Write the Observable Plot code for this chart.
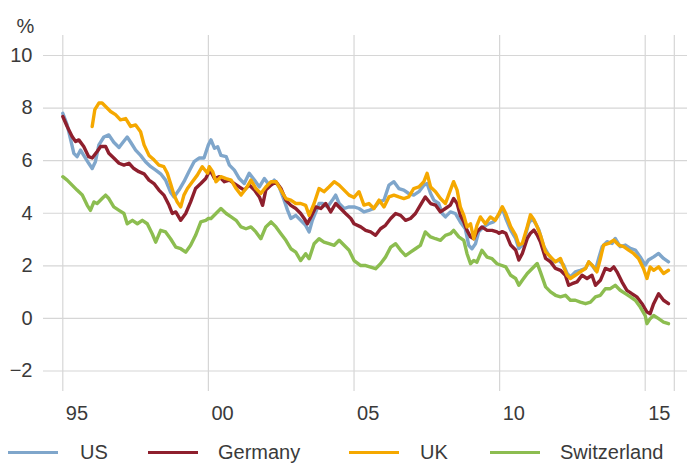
<!DOCTYPE html>
<html>
<head>
<meta charset="utf-8">
<script src="https://cdn.jsdelivr.net/npm/d3@7"></script>
<script src="https://cdn.jsdelivr.net/npm/@observablehq/plot@0.6"></script>
<style>
  html, body { margin: 0; padding: 0; background: #fff; }
  #chart { width: 687px; height: 466px; position: relative; font-family: "Liberation Sans", Arial, sans-serif; color: #3a3a3a; }
  .legend { position: absolute; left: 0; top: 440px; width: 687px; height: 24px; font-size: 20px; color: #3a3a3a; }
  .legend .sw { position: absolute; top: 11px; width: 50px; height: 3px; }
  .legend .tx { position: absolute; top: 0; line-height: 24px; white-space: nowrap; }
</style>
</head>
<body>
<div id="chart"></div>
<script>
// ---- data (decimal year, % yield) ----
const seriesNames = ["US", "Germany", "UK", "Switzerland"];
const seriesColors = ["#7fa6cb", "#8e1f2d", "#f5a800", "#8cbd50"];

const us = [[1995.00,7.8],[1995.15,7.36],[1995.26,6.85],[1995.38,6.28],[1995.49,6.15],[1995.61,6.4],[1995.72,6.2],[1995.89,5.9],[1996.01,5.7],[1996.12,5.96],[1996.24,6.6],[1996.41,6.9],[1996.58,6.98],[1996.75,6.7],[1996.93,6.5],[1997.04,6.66],[1997.21,6.9],[1997.33,6.7],[1997.50,6.4],[1997.67,6.2],[1997.84,5.96],[1998.02,5.77],[1998.19,5.64],[1998.36,5.5],[1998.53,5.26],[1998.70,4.8],[1998.82,4.62],[1998.99,4.88],[1999.16,5.2],[1999.33,5.58],[1999.51,5.96],[1999.68,6.1],[1999.85,6.1],[2000.00,6.6],[2000.09,6.79],[2000.21,6.47],[2000.32,6.53],[2000.43,6.2],[2000.61,6.15],[2000.72,5.83],[2000.89,5.64],[2001.06,5.32],[2001.23,5.13],[2001.40,5.52],[2001.58,5.26],[2001.75,5.0],[2001.92,5.32],[2002.09,5.07],[2002.26,5.26],[2002.43,5.0],[2002.60,4.5],[2002.72,4.11],[2002.83,3.8],[2003.00,3.92],[2003.17,3.73],[2003.34,3.54],[2003.46,3.29],[2003.57,3.73],[2003.69,4.05],[2003.80,4.37],[2003.92,4.37],[2004.09,4.24],[2004.26,4.5],[2004.37,4.69],[2004.49,4.37],[2004.66,4.18],[2004.83,4.24],[2005.00,4.24],[2005.17,4.18],[2005.34,4.05],[2005.51,4.11],[2005.68,4.18],[2005.86,4.43],[2006.03,4.5],[2006.20,5.07],[2006.37,5.2],[2006.54,4.94],[2006.71,4.88],[2006.88,4.75],[2007.05,4.69],[2007.23,4.82],[2007.40,5.07],[2007.51,5.13],[2007.63,4.75],[2007.74,4.5],[2007.91,4.37],[2008.03,3.99],[2008.14,3.86],[2008.31,4.05],[2008.48,3.99],[2008.65,3.67],[2008.82,3.41],[2008.94,2.78],[2009.05,2.65],[2009.17,2.84],[2009.28,3.29],[2009.45,3.48],[2009.62,3.6],[2009.79,3.67],[2009.98,3.94],[2010.09,4.19],[2010.21,3.81],[2010.38,3.36],[2010.55,3.04],[2010.66,2.66],[2010.78,2.79],[2010.89,3.17],[2011.00,3.62],[2011.12,3.81],[2011.23,3.62],[2011.35,3.36],[2011.52,2.73],[2011.69,2.41],[2011.86,2.15],[2012.03,2.22],[2012.20,2.03],[2012.32,1.71],[2012.43,1.58],[2012.60,1.77],[2012.77,1.83],[2012.95,1.9],[2013.06,2.15],[2013.17,2.03],[2013.29,1.83],[2013.40,2.28],[2013.52,2.73],[2013.69,2.92],[2013.86,2.85],[2013.97,3.04],[2014.14,2.73],[2014.32,2.79],[2014.49,2.66],[2014.66,2.6],[2014.83,2.34],[2015.00,2.03],[2015.11,2.22],[2015.29,2.34],[2015.46,2.47],[2015.63,2.28],[2015.80,2.15]];

const germany = [[1995.00,7.68],[1995.15,7.3],[1995.32,6.92],[1995.44,6.73],[1995.55,6.79],[1995.72,6.54],[1995.89,6.15],[1996.01,6.1],[1996.18,6.35],[1996.30,6.54],[1996.47,6.54],[1996.58,6.28],[1996.75,6.1],[1996.93,5.9],[1997.10,5.83],[1997.27,5.9],[1997.44,5.7],[1997.61,5.58],[1997.79,5.5],[1997.96,5.26],[1998.13,5.13],[1998.30,4.88],[1998.47,4.69],[1998.65,4.3],[1998.76,3.99],[1998.88,4.05],[1999.05,3.73],[1999.22,3.99],[1999.39,4.43],[1999.56,4.94],[1999.74,5.13],[1999.91,5.32],[2000.00,5.52],[2000.09,5.58],[2000.21,5.32],[2000.38,5.39],[2000.55,5.2],[2000.72,5.26],[2000.89,5.13],[2001.06,5.0],[2001.23,4.88],[2001.40,5.07],[2001.58,4.88],[2001.75,4.62],[2001.86,4.3],[2001.97,4.88],[2002.15,5.07],[2002.32,5.2],[2002.49,4.94],[2002.66,4.5],[2002.83,4.3],[2003.00,4.18],[2003.17,3.99],[2003.29,3.8],[2003.40,3.6],[2003.52,3.86],[2003.69,4.24],[2003.86,4.18],[2004.03,4.37],[2004.20,4.05],[2004.37,4.37],[2004.54,4.18],[2004.71,3.99],[2004.89,3.8],[2005.00,3.6],[2005.23,3.48],[2005.40,3.35],[2005.57,3.29],[2005.74,3.16],[2005.91,3.41],[2006.08,3.54],[2006.26,3.8],[2006.43,3.99],[2006.60,3.92],[2006.77,3.73],[2006.94,3.8],[2007.11,3.99],[2007.28,4.31],[2007.45,4.62],[2007.63,4.37],[2007.80,4.31],[2007.97,4.05],[2008.14,4.18],[2008.31,4.31],[2008.42,4.56],[2008.54,4.37],[2008.65,3.92],[2008.77,3.67],[2008.88,3.35],[2009.00,3.1],[2009.11,3.03],[2009.22,3.29],[2009.39,3.48],[2009.57,3.35],[2009.74,3.35],[2009.91,3.29],[2009.98,3.24],[2010.09,3.3],[2010.21,3.24],[2010.38,2.79],[2010.55,2.6],[2010.66,2.22],[2010.78,2.47],[2010.95,3.04],[2011.06,3.24],[2011.18,3.36],[2011.29,3.17],[2011.40,2.92],[2011.58,2.28],[2011.75,2.15],[2011.92,1.9],[2012.09,1.83],[2012.26,1.64],[2012.37,1.26],[2012.49,1.32],[2012.66,1.39],[2012.83,1.64],[2013.00,1.52],[2013.17,1.64],[2013.29,1.26],[2013.46,1.45],[2013.63,1.9],[2013.80,1.83],[2013.92,1.96],[2014.03,1.77],[2014.20,1.39],[2014.37,1.07],[2014.54,0.94],[2014.71,0.82],[2014.89,0.56],[2015.06,0.24],[2015.17,0.18],[2015.29,0.56],[2015.46,0.94],[2015.63,0.69],[2015.80,0.56]];

const uk = [[1996.01,7.3],[1996.10,7.94],[1996.24,8.19],[1996.35,8.19],[1996.47,8.06],[1996.64,7.87],[1996.81,7.75],[1996.98,7.55],[1997.16,7.6],[1997.33,7.3],[1997.50,7.36],[1997.67,7.1],[1997.79,6.6],[1997.96,6.2],[1998.13,6.03],[1998.30,5.83],[1998.47,5.77],[1998.59,5.52],[1998.70,5.13],[1998.82,4.69],[1998.93,4.43],[1999.05,4.24],[1999.16,4.69],[1999.28,4.94],[1999.45,5.2],[1999.62,5.45],[1999.79,5.77],[1999.97,5.52],[2000.03,5.77],[2000.15,5.58],[2000.26,5.2],[2000.43,5.39],[2000.61,5.32],[2000.78,5.26],[2000.95,4.94],[2001.12,4.69],[2001.29,4.94],[2001.46,5.26],[2001.63,4.94],[2001.80,4.75],[2001.97,5.0],[2002.15,5.2],[2002.32,5.2],[2002.49,4.88],[2002.66,4.56],[2002.83,4.5],[2003.00,4.37],[2003.17,4.37],[2003.34,4.3],[2003.46,3.92],[2003.63,4.37],[2003.80,4.94],[2003.97,4.82],[2004.14,5.0],[2004.32,5.2],[2004.49,5.07],[2004.66,4.88],[2004.83,4.69],[2005.00,4.6],[2005.17,4.82],[2005.34,4.31],[2005.51,4.37],[2005.68,4.18],[2005.86,4.5],[2006.03,4.24],[2006.20,4.62],[2006.37,4.69],[2006.54,4.62],[2006.71,4.56],[2006.88,4.62],[2007.05,4.94],[2007.23,5.0],[2007.40,5.2],[2007.51,5.52],[2007.63,5.0],[2007.80,4.82],[2007.97,4.56],[2008.14,4.37],[2008.31,4.88],[2008.42,5.2],[2008.54,4.88],[2008.65,4.24],[2008.77,3.92],[2008.88,3.48],[2009.00,3.6],[2009.11,3.03],[2009.22,3.54],[2009.34,3.86],[2009.51,3.6],[2009.68,3.86],[2009.85,3.73],[2009.98,4.0],[2010.09,4.25],[2010.21,4.0],[2010.38,3.49],[2010.55,3.17],[2010.66,2.79],[2010.78,2.85],[2010.95,3.49],[2011.06,3.94],[2011.18,3.75],[2011.29,3.49],[2011.40,3.17],[2011.58,2.53],[2011.75,2.34],[2011.92,2.15],[2012.09,2.28],[2012.20,1.96],[2012.32,1.64],[2012.43,1.52],[2012.60,1.64],[2012.77,1.77],[2012.95,1.9],[2013.06,2.15],[2013.23,1.96],[2013.34,1.77],[2013.46,2.28],[2013.57,2.79],[2013.74,2.85],[2013.92,2.98],[2014.09,2.79],[2014.26,2.73],[2014.43,2.6],[2014.60,2.47],[2014.77,2.28],[2014.94,1.9],[2015.06,1.52],[2015.17,1.96],[2015.29,1.83],[2015.46,1.96],[2015.63,1.71],[2015.80,1.83]];

const switzerland = [[1995.00,5.39],[1995.15,5.26],[1995.32,5.07],[1995.49,4.88],[1995.67,4.69],[1995.84,4.3],[1995.95,4.11],[1996.07,4.43],[1996.18,4.37],[1996.35,4.56],[1996.47,4.69],[1996.58,4.56],[1996.75,4.24],[1996.93,4.11],[1997.10,3.99],[1997.21,3.6],[1997.39,3.73],[1997.56,3.6],[1997.73,3.73],[1997.90,3.6],[1998.07,3.22],[1998.19,2.9],[1998.36,3.35],[1998.53,3.29],[1998.70,3.03],[1998.88,2.71],[1999.05,2.65],[1999.22,2.52],[1999.39,2.78],[1999.56,3.16],[1999.74,3.67],[1999.91,3.73],[2000.00,3.8],[2000.09,3.8],[2000.26,3.99],[2000.43,4.18],[2000.61,3.99],[2000.78,3.86],[2000.95,3.73],[2001.12,3.48],[2001.29,3.41],[2001.46,3.48],[2001.63,3.29],[2001.80,3.03],[2001.97,3.48],[2002.15,3.67],[2002.32,3.48],[2002.49,3.22],[2002.66,2.97],[2002.83,2.65],[2003.00,2.52],[2003.17,2.2],[2003.34,2.46],[2003.46,2.27],[2003.63,2.84],[2003.80,3.03],[2003.97,2.9],[2004.14,2.84],[2004.32,2.78],[2004.49,2.97],[2004.66,2.78],[2004.83,2.59],[2005.00,2.2],[2005.23,2.01],[2005.40,2.01],[2005.57,1.95],[2005.74,1.89],[2005.91,2.08],[2006.08,2.33],[2006.26,2.71],[2006.43,2.84],[2006.60,2.59],[2006.77,2.39],[2006.94,2.52],[2007.11,2.65],[2007.28,2.78],[2007.45,3.29],[2007.63,3.1],[2007.80,3.03],[2007.97,2.97],[2008.14,3.16],[2008.31,3.22],[2008.42,3.35],[2008.60,3.1],[2008.77,2.97],[2008.88,2.46],[2009.00,2.08],[2009.11,2.2],[2009.22,2.14],[2009.39,2.59],[2009.57,2.33],[2009.74,2.27],[2009.91,2.08],[2010.03,2.03],[2010.21,1.96],[2010.38,1.64],[2010.55,1.52],[2010.66,1.26],[2010.78,1.45],[2010.95,1.71],[2011.12,1.9],[2011.29,2.09],[2011.40,1.77],[2011.58,1.2],[2011.75,1.01],[2011.92,0.88],[2012.09,0.82],[2012.26,0.88],[2012.43,0.69],[2012.60,0.69],[2012.77,0.62],[2012.95,0.56],[2013.12,0.62],[2013.29,0.82],[2013.46,0.88],[2013.63,1.13],[2013.80,1.13],[2013.97,1.26],[2014.14,1.07],[2014.32,0.94],[2014.49,0.82],[2014.66,0.69],[2014.83,0.43],[2015.00,0.11],[2015.06,-0.2],[2015.17,-0.01],[2015.29,0.11],[2015.46,-0.01],[2015.63,-0.14],[2015.80,-0.2]];

const yTicks = [-2, 0, 2, 4, 6, 8, 10];
const xTickYears = [1995, 2000, 2005, 2010, 2015];
const xTickLabels = ["95", "00", "05", "10", "15"];
const xGridYears = [1995, 2000, 2005, 2010, 2015, 2016];
const xDomainYears = [1994.337, 2016.452];
const yDomain = [-2.78, 10.76];

// ---- helpers ----
function toDate(y) {
  const yr = Math.floor(y);
  const s = Date.UTC(yr, 0, 1), e = Date.UTC(yr + 1, 0, 1);
  return new Date(s + (y - yr) * (e - s));
}
const allSeries = [us, germany, uk, switzerland];
const rows = allSeries.flatMap((arr, i) => arr.map(([t, v]) => ({series: seriesNames[i], date: toDate(t), value: v})));
const labelByTime = new Map(xTickYears.map((y, i) => [toDate(y).getTime(), xTickLabels[i]]));

const grid = "#d6d6d6";
const plot = Plot.plot({
  width: 687,
  height: 430,
  marginTop: 35,
  marginLeft: 43,
  marginRight: 0,
  marginBottom: 39,
  style: {fontFamily: "Liberation Sans, Arial, sans-serif", fontSize: "20px", color: "#3a3a3a", background: "#fff"},
  x: {type: "utc", domain: xDomainYears.map(toDate)},
  y: {domain: yDomain},
  color: {domain: seriesNames, range: seriesColors},
  marks: [
    Plot.ruleY(yTicks, {stroke: grid, strokeWidth: 1.2}),
    Plot.ruleX(xGridYears.map(toDate), {stroke: grid, strokeWidth: 1.2}),
    Plot.axisY({ticks: yTicks, tickSize: 0, tickPadding: 11, label: null}),
    Plot.axisX({ticks: xTickYears.map(toDate), tickSize: 0, tickPadding: 14, textAnchor: "start", dx: 3,
      tickFormat: d => labelByTime.get(d.getTime()), label: null}),
    ...seriesNames.map(name => Plot.line(rows.filter(r => r.series === name), {
      x: "date", y: "value", stroke: "series", strokeWidth: 3.4, strokeLinejoin: "round", strokeLinecap: "round"
    })),
    Plot.text(["%"], {frameAnchor: "top-left", dx: -18, dy: -17, textAnchor: "middle", fontSize: 20, fill: "#3a3a3a"})
  ]
});

const chart = document.getElementById("chart");
chart.appendChild(plot);

// legend below the chart
const swatchLeft = [8, 148, 349, 490];
const textLeft = [80, 218, 420, 560];
const legend = document.createElement("div");
legend.className = "legend";
seriesNames.forEach((name, i) => {
  const sw = document.createElement("span");
  sw.className = "sw";
  sw.style.left = swatchLeft[i] + "px";
  sw.style.background = seriesColors[i];
  const tx = document.createElement("span");
  tx.className = "tx";
  tx.style.left = textLeft[i] + "px";
  tx.textContent = name;
  legend.appendChild(sw);
  legend.appendChild(tx);
});
chart.appendChild(legend);
</script>
</body>
</html>
